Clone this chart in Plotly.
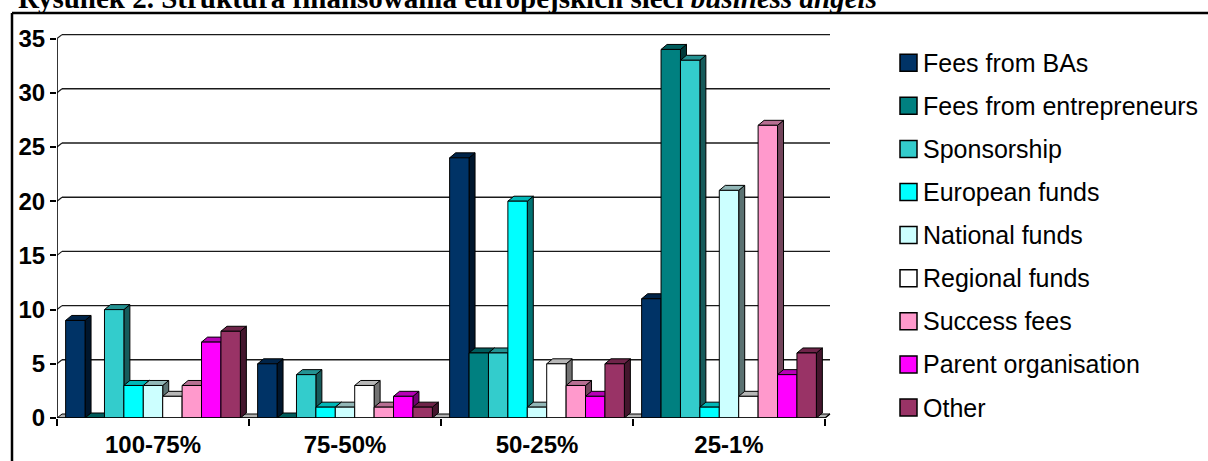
import plotly.graph_objects as go

# ---------------- data ----------------
categories = ["100-75%", "75-50%", "50-25%", "25-1%"]
series_names = ["Fees from BAs", "Fees from entrepreneurs", "Sponsorship", "European funds",
                "National funds", "Regional funds", "Success fees", "Parent organisation", "Other"]
fees_from_bas = [9, 5, 24, 11]
fees_from_entrepreneurs = [0, 0, 6, 34]
sponsorship = [10, 4, 6, 33]
european_funds = [3, 1, 20, 1]
national_funds = [3, 1, 1, 21]
regional_funds = [2, 3, 5, 2]
success_fees = [3, 1, 3, 27]
parent_organisation = [7, 2, 2, 4]
other = [8, 1, 5, 6]
y_ticks = [0, 5, 10, 15, 20, 25, 30, 35]

series_values = [fees_from_bas, fees_from_entrepreneurs, sponsorship, european_funds,
                 national_funds, regional_funds, success_fees, parent_organisation, other]
colors = ["#003366", "#008080", "#33CCCC", "#00FFFF", "#CCFFFF", "#FFFFFF",
          "#FF99CC", "#FF00FF", "#993366"]

# ---------------- geometry ----------------
W, H = 1208, 461
L_PX, R_PX, T_PX, B_PX = 57, 835, 32, 418
PX_PER_CAT = 192.0
PX_PER_UNIT = 10.84
x_range = [-0.5, -0.5 + (R_PX - L_PX) / PX_PER_CAT]
y_range = [0, (B_PX - T_PX) / PX_PER_UNIT]
BARGAP = 0.09
n = len(series_names)
bw = (1 - BARGAP) / n

def ux(px):
    return px / PX_PER_CAT

def uy(px):
    return px / PX_PER_UNIT

DXB, DYB = ux(6), uy(5)      # bar depth
DXG, DYG = ux(5), uy(4)      # wall depth

def shade(hexc, f):
    h = hexc.lstrip("#")
    r, g, b = (int(h[i:i + 2], 16) for i in (0, 2, 4))
    return "#%02x%02x%02x" % (int(r * f), int(g * f), int(b * f))

def pxx(px):
    return (px - L_PX) / (R_PX - L_PX)

def pxy(py):
    return (B_PX - py) / (B_PX - T_PX)

fig = go.Figure()
for name, vals, col in zip(series_names, series_values, colors):
    fig.add_trace(go.Bar(
        name=name, x=list(range(len(categories))), y=vals,
        marker=dict(color=col, line=dict(color="black", width=1)),
        showlegend=False,
    ))

shapes = []
# floor
shapes.append(dict(type="path", xref="x", yref="y", layer="below",
                   path=f"M -0.5,0 L 3.5,0 L {3.5+DXG},{DYG} L {-0.5+DXG},{DYG} Z",
                   fillcolor="#b0b0b0", line=dict(color="black", width=1)))
# back-wall gridlines
for v in y_ticks[1:]:
    shapes.append(dict(type="line", xref="x", yref="y", layer="below",
                       x0=-0.5 + DXG, x1=3.5 + DXG, y0=v + DYG, y1=v + DYG,
                       line=dict(color="#1a1a1a", width=1.4)))
    shapes.append(dict(type="line", xref="x", yref="y", layer="below",
                       x0=-0.5, x1=-0.5 + DXG, y0=v, y1=v + DYG,
                       line=dict(color="#1a1a1a", width=1.2)))
# 3D side / top faces of bars
for c in range(len(categories)):
    for i, (vals, col) in enumerate(zip(series_values, colors)):
        v = vals[c]
        xl = c - (1 - BARGAP) / 2 + i * bw
        xr = xl + bw
        shapes.append(dict(type="path", xref="x", yref="y", layer="below",
                           path=f"M {xr},0 L {xr+DXB},{DYB} L {xr+DXB},{v+DYB} L {xr},{v} Z",
                           fillcolor=shade(col, 0.45), line=dict(color="black", width=1)))
        shapes.append(dict(type="path", xref="x", yref="y", layer="below",
                           path=f"M {xl},{v} L {xl+DXB},{v+DYB} L {xr+DXB},{v+DYB} L {xr},{v} Z",
                           fillcolor=shade(col, 0.72), line=dict(color="black", width=1)))
# axis lines
shapes.append(dict(type="line", xref="x", yref="y", x0=-0.5, x1=-0.5, y0=0, y1=y_ticks[-1],
                   line=dict(color="black", width=1.6)))
shapes.append(dict(type="line", xref="x", yref="y", x0=-0.5, x1=3.5, y0=0, y1=0,
                   line=dict(color="black", width=1.6)))
shapes.append(dict(type="line", xref="x", yref="y", x0=3.5, x1=3.5 + DXG, y0=0, y1=DYG,
                   line=dict(color="black", width=1.2)))
# border box
shapes.append(dict(type="line", xref="paper", yref="paper", x0=pxx(12), x1=pxx(1210),
                   y0=pxy(13), y1=pxy(13), line=dict(color="black", width=2.5)))
shapes.append(dict(type="line", xref="paper", yref="paper", x0=pxx(12), x1=pxx(12),
                   y0=pxy(13), y1=pxy(463), line=dict(color="black", width=2.5)))

annotations = []
# manual legend
for k, (name, col) in enumerate(zip(series_names, colors)):
    cy = 62.7 + 43.1 * k
    shapes.append(dict(type="rect", xref="paper", yref="paper",
                       x0=pxx(900), x1=pxx(917), y0=pxy(cy - 8.5), y1=pxy(cy + 8.5),
                       fillcolor=col, line=dict(color="black", width=1.5)))
    annotations.append(dict(xref="paper", yref="paper", x=pxx(921), y=pxy(cy),
                            xanchor="left", yanchor="middle", showarrow=False,
                            text=name, font=dict(family="Liberation Sans, Arial", size=25, color="black")))
# title (cut at top, as in the source)
annotations.append(dict(xref="paper", yref="paper", x=pxx(879), y=pxy(16),
                        xanchor="right", yanchor="bottom", showarrow=False,
                        text="<b>Rysunek 2. Struktura finansowania europejskich sieci <i>business angels</i></b>",
                        font=dict(family="Liberation Serif, Times New Roman", size=29, color="black")))

fig.update_layout(
    width=W, height=H,
    margin=dict(l=L_PX, r=W - R_PX, t=T_PX, b=H - B_PX, pad=0, autoexpand=False),
    paper_bgcolor="white", plot_bgcolor="white",
    barmode="group", bargap=BARGAP, bargroupgap=0,
    shapes=shapes, annotations=annotations,
    showlegend=False,
    xaxis=dict(range=x_range, tickmode="array", tickvals=list(range(len(categories))),
               ticktext=categories, ticks="", showgrid=False, zeroline=False, showline=False,
               ticklabelstandoff=10, automargin=False,
               tickfont=dict(family="Liberation Sans, Arial", size=24, color="black", weight="bold"),
               minor=dict(tickmode="array", tickvals=[-0.5, 0.5, 1.5, 2.5, 3.5], ticks="outside",
                          ticklen=7, tickwidth=1.5, tickcolor="black", showgrid=False)),
    yaxis=dict(range=y_range, tickmode="array", tickvals=y_ticks, ticks="outside", ticklen=6,
               tickwidth=1.5, tickcolor="black", showgrid=False, zeroline=False, showline=False,
               automargin=False,
               tickfont=dict(family="Liberation Sans, Arial", size=24, color="black", weight="bold")),
)

fig.write_html("out.html")
